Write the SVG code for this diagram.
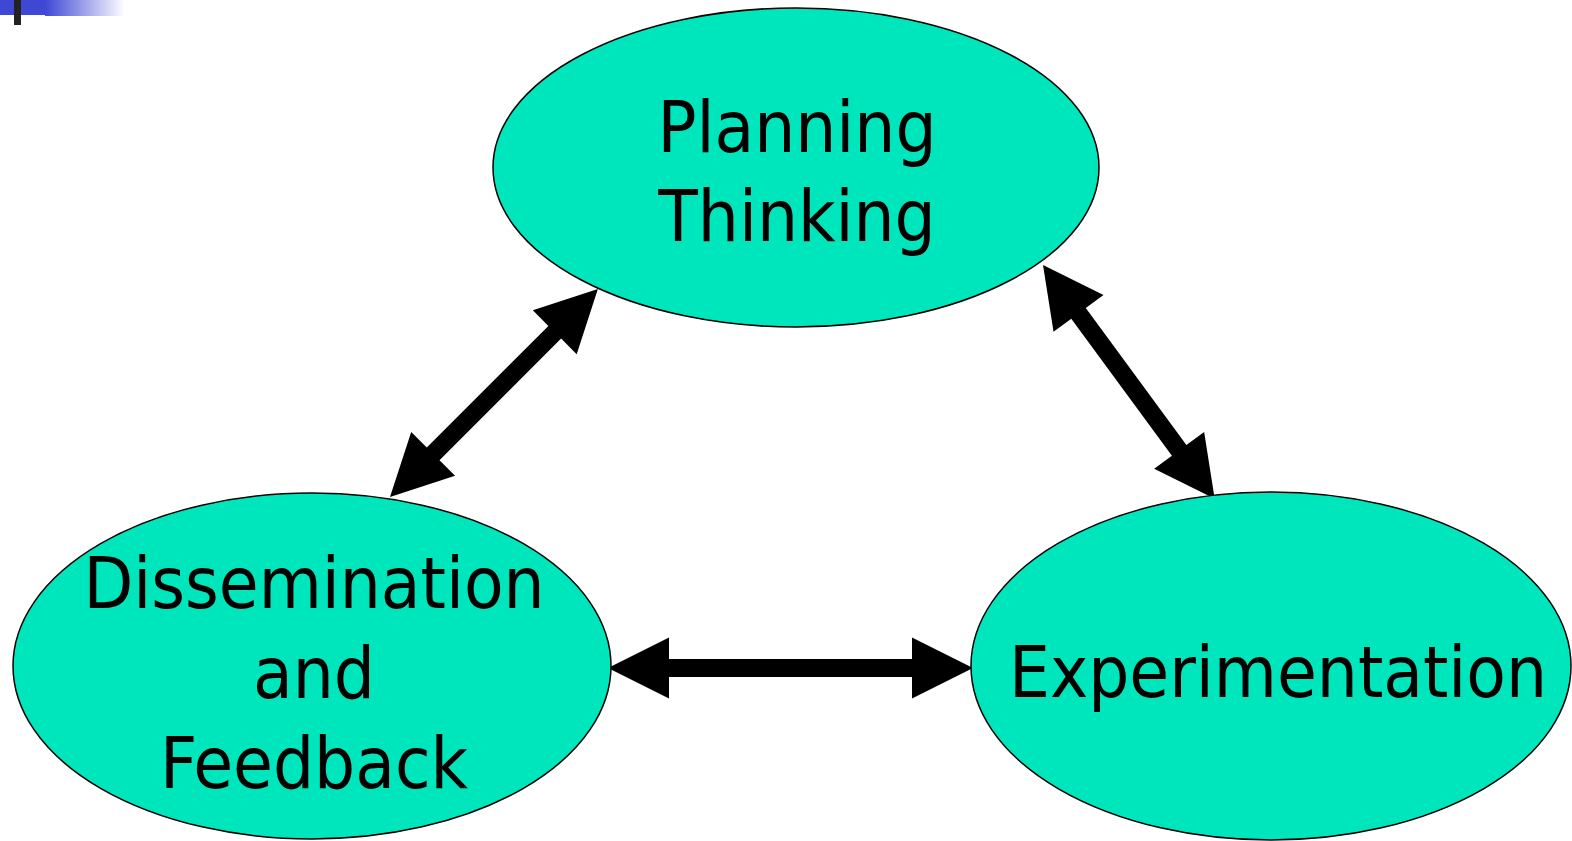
<svg xmlns="http://www.w3.org/2000/svg" width="1572" height="841" viewBox="0 0 1572 841">
  <style>
    .node { fill: #00E6BC; stroke: #000; stroke-width: 1.5; }
    .label { font-family: "DejaVu Sans Condensed", "DejaVu Sans", sans-serif; font-size: 72px; fill: #000; text-anchor: middle; }
    .arrow { fill: #000; stroke: none; }
  </style>
  <defs>
    <linearGradient id="fade" x1="0" y1="0" x2="1" y2="0">
      <stop offset="0" stop-color="#3F48D4"/>
      <stop offset="1" stop-color="#3F48D4" stop-opacity="0"/>
    </linearGradient>
  </defs>
  <rect width="1572" height="841" fill="#fff"/>

  <!-- corner bullet bar -->
  <g id="corner">
    <rect x="0" y="0" width="45" height="15" fill="#3F48D4"/>
    <rect x="45" y="0" width="80" height="16" fill="url(#fade)"/>
    <rect x="14" y="0" width="7" height="25" fill="#222"/>
  </g>

  <g id="connectors">
    <!-- Dissemination <-> Planning -->
    <path class="arrow" transform="translate(390,497) rotate(-45)" d="M0,0 L61,-31 L61,-9 L233,-9 L233,-31 L294,0 L233,31 L233,9 L61,9 L61,31 Z"/>
    <!-- Planning <-> Experimentation -->
    <path class="arrow" transform="translate(1043,265) rotate(53.7)" d="M0,0 L60,-31 L60,-9 L230,-9 L230,-31 L290,0 L230,31 L230,9 L60,9 L60,31 Z"/>
    <!-- Dissemination <-> Experimentation -->
    <path class="arrow" transform="translate(608,668)" d="M0,0 L61,-30.5 L61,-9 L304,-9 L304,-30.5 L365,0 L304,30.5 L304,9 L61,9 L61,30.5 Z"/>
  </g>

  <g id="planning">
    <ellipse class="node" cx="796" cy="167.5" rx="303" ry="159.5"/>
    <text class="label" x="797" y="152">Planning</text>
    <text class="label" x="797" y="241">Thinking</text>
  </g>

  <g id="dissemination">
    <ellipse class="node" cx="312" cy="666" rx="299" ry="173"/>
    <text class="label" x="314" y="608">Dissemination</text>
    <text class="label" x="314" y="698">and</text>
    <text class="label" x="314" y="788">Feedback</text>
  </g>

  <g id="experimentation">
    <ellipse class="node" cx="1271" cy="666" rx="300" ry="174"/>
    <text class="label" x="1278" y="697">Experimentation</text>
  </g>
</svg>
